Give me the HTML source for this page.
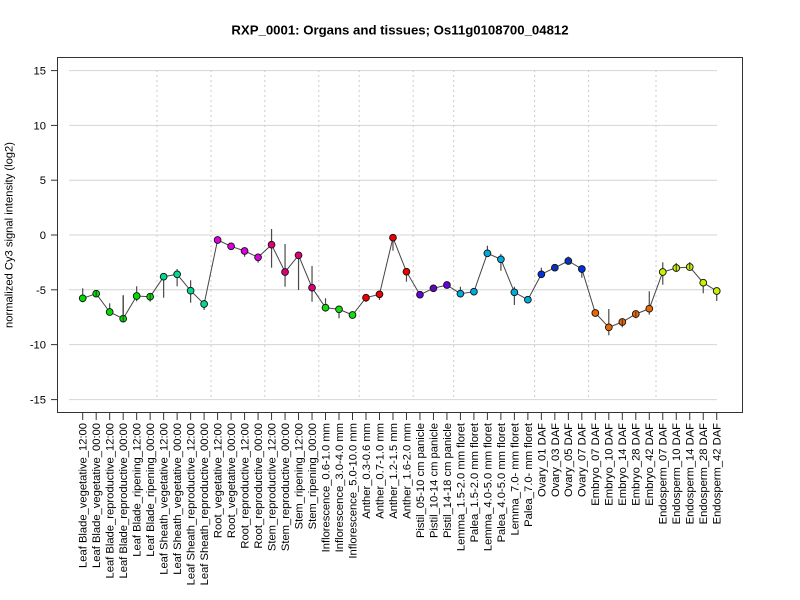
<!DOCTYPE html>
<html><head><meta charset="utf-8"><style>
html,body{margin:0;padding:0;background:#fff;}
svg{display:block;font-family:"Liberation Sans",Arial,sans-serif;}
</style></head><body>
<svg width="800" height="600" viewBox="0 0 800 600" xmlns="http://www.w3.org/2000/svg">
<rect width="800" height="600" fill="#fff"/>
<text x="400" y="34.5" text-anchor="middle" font-size="13.2" font-weight="bold" fill="#000">RXP_0001: Organs and tissues; Os11g0108700_04812</text>
<!-- horizontal grid -->
<g stroke="#d4d4d4" stroke-width="1">
<line x1="69" y1="70.6" x2="717" y2="70.6"/>
<line x1="69" y1="125.4" x2="717" y2="125.4"/>
<line x1="69" y1="180.2" x2="717" y2="180.2"/>
<line x1="69" y1="235" x2="717" y2="235"/>
<line x1="69" y1="289.8" x2="717" y2="289.8"/>
<line x1="69" y1="344.6" x2="717" y2="344.6"/>
<line x1="69" y1="399.6" x2="717" y2="399.6"/>
</g>
<!-- vertical dotted -->
<g stroke="#cccccc" stroke-width="1" stroke-dasharray="2,3">
<line x1="157" y1="70" x2="157" y2="400"/>
<line x1="211" y1="70" x2="211" y2="400"/>
<line x1="264.8" y1="70" x2="264.8" y2="400"/>
<line x1="318.8" y1="70" x2="318.8" y2="400"/>
<line x1="359.2" y1="70" x2="359.2" y2="400"/>
<line x1="413.2" y1="70" x2="413.2" y2="400"/>
<line x1="453.7" y1="70" x2="453.7" y2="400"/>
<line x1="534.6" y1="70" x2="534.6" y2="400"/>
<line x1="588.6" y1="70" x2="588.6" y2="400"/>
<line x1="656" y1="70" x2="656" y2="400"/>
</g>
<!-- box -->
<rect x="57.5" y="57.5" width="685" height="355" fill="none" stroke="#333" stroke-width="1"/>
<!-- y ticks -->
<g stroke="#333" stroke-width="1">
<line x1="51" y1="70.6" x2="57.5" y2="70.6"/>
<line x1="51" y1="125.4" x2="57.5" y2="125.4"/>
<line x1="51" y1="180.2" x2="57.5" y2="180.2"/>
<line x1="51" y1="235" x2="57.5" y2="235"/>
<line x1="51" y1="289.8" x2="57.5" y2="289.8"/>
<line x1="51" y1="344.6" x2="57.5" y2="344.6"/>
<line x1="51" y1="399.6" x2="57.5" y2="399.6"/>
</g>
<g font-size="11.2" text-anchor="end" fill="#000">
<text x="46" y="74.6">15</text>
<text x="46" y="129.4">10</text>
<text x="46" y="184.2">5</text>
<text x="46" y="239">0</text>
<text x="46" y="293.8">-5</text>
<text x="46" y="348.6">-10</text>
<text x="46" y="403.6">-15</text>
</g>
<text transform="translate(12.5,235) rotate(-90)" text-anchor="middle" font-size="11.2" fill="#000">normalized Cy3 signal intensity (log2)</text>
<!-- x ticks -->
<g stroke="#333" stroke-width="1">
<line x1="82.7" y1="412.5" x2="716.73" y2="412.5"/>
<line x1="82.70" y1="412.5" x2="82.70" y2="420"/>
<line x1="96.19" y1="412.5" x2="96.19" y2="420"/>
<line x1="109.68" y1="412.5" x2="109.68" y2="420"/>
<line x1="123.17" y1="412.5" x2="123.17" y2="420"/>
<line x1="136.66" y1="412.5" x2="136.66" y2="420"/>
<line x1="150.15" y1="412.5" x2="150.15" y2="420"/>
<line x1="163.64" y1="412.5" x2="163.64" y2="420"/>
<line x1="177.13" y1="412.5" x2="177.13" y2="420"/>
<line x1="190.62" y1="412.5" x2="190.62" y2="420"/>
<line x1="204.11" y1="412.5" x2="204.11" y2="420"/>
<line x1="217.60" y1="412.5" x2="217.60" y2="420"/>
<line x1="231.09" y1="412.5" x2="231.09" y2="420"/>
<line x1="244.58" y1="412.5" x2="244.58" y2="420"/>
<line x1="258.07" y1="412.5" x2="258.07" y2="420"/>
<line x1="271.56" y1="412.5" x2="271.56" y2="420"/>
<line x1="285.05" y1="412.5" x2="285.05" y2="420"/>
<line x1="298.54" y1="412.5" x2="298.54" y2="420"/>
<line x1="312.03" y1="412.5" x2="312.03" y2="420"/>
<line x1="325.52" y1="412.5" x2="325.52" y2="420"/>
<line x1="339.01" y1="412.5" x2="339.01" y2="420"/>
<line x1="352.50" y1="412.5" x2="352.50" y2="420"/>
<line x1="365.99" y1="412.5" x2="365.99" y2="420"/>
<line x1="379.48" y1="412.5" x2="379.48" y2="420"/>
<line x1="392.97" y1="412.5" x2="392.97" y2="420"/>
<line x1="406.46" y1="412.5" x2="406.46" y2="420"/>
<line x1="419.95" y1="412.5" x2="419.95" y2="420"/>
<line x1="433.44" y1="412.5" x2="433.44" y2="420"/>
<line x1="446.93" y1="412.5" x2="446.93" y2="420"/>
<line x1="460.42" y1="412.5" x2="460.42" y2="420"/>
<line x1="473.91" y1="412.5" x2="473.91" y2="420"/>
<line x1="487.40" y1="412.5" x2="487.40" y2="420"/>
<line x1="500.89" y1="412.5" x2="500.89" y2="420"/>
<line x1="514.38" y1="412.5" x2="514.38" y2="420"/>
<line x1="527.87" y1="412.5" x2="527.87" y2="420"/>
<line x1="541.36" y1="412.5" x2="541.36" y2="420"/>
<line x1="554.85" y1="412.5" x2="554.85" y2="420"/>
<line x1="568.34" y1="412.5" x2="568.34" y2="420"/>
<line x1="581.83" y1="412.5" x2="581.83" y2="420"/>
<line x1="595.32" y1="412.5" x2="595.32" y2="420"/>
<line x1="608.81" y1="412.5" x2="608.81" y2="420"/>
<line x1="622.30" y1="412.5" x2="622.30" y2="420"/>
<line x1="635.79" y1="412.5" x2="635.79" y2="420"/>
<line x1="649.28" y1="412.5" x2="649.28" y2="420"/>
<line x1="662.77" y1="412.5" x2="662.77" y2="420"/>
<line x1="676.26" y1="412.5" x2="676.26" y2="420"/>
<line x1="689.75" y1="412.5" x2="689.75" y2="420"/>
<line x1="703.24" y1="412.5" x2="703.24" y2="420"/>
<line x1="716.73" y1="412.5" x2="716.73" y2="420"/>
</g>
<!-- x labels -->
<g font-size="11.2" text-anchor="end" fill="#000">
<text transform="translate(86.6,423) rotate(-90)">Leaf Blade_vegetative_12:00</text>
<text transform="translate(100.1,423) rotate(-90)">Leaf Blade_vegetative_00:00</text>
<text transform="translate(113.6,423) rotate(-90)">Leaf Blade_reproductive_12:00</text>
<text transform="translate(127.1,423) rotate(-90)">Leaf Blade_reproductive_00:00</text>
<text transform="translate(140.6,423) rotate(-90)">Leaf Blade_ripening_12:00</text>
<text transform="translate(154.1,423) rotate(-90)">Leaf Blade_ripening_00:00</text>
<text transform="translate(167.5,423) rotate(-90)">Leaf Sheath_vegetative_12:00</text>
<text transform="translate(181.0,423) rotate(-90)">Leaf Sheath_vegetative_00:00</text>
<text transform="translate(194.5,423) rotate(-90)">Leaf Sheath_reproductive_12:00</text>
<text transform="translate(208.0,423) rotate(-90)">Leaf Sheath_reproductive_00:00</text>
<text transform="translate(221.5,423) rotate(-90)">Root_vegetative_12:00</text>
<text transform="translate(235.0,423) rotate(-90)">Root_vegetative_00:00</text>
<text transform="translate(248.5,423) rotate(-90)">Root_reproductive_12:00</text>
<text transform="translate(262.0,423) rotate(-90)">Root_reproductive_00:00</text>
<text transform="translate(275.5,423) rotate(-90)">Stem_reproductive_12:00</text>
<text transform="translate(289.0,423) rotate(-90)">Stem_reproductive_00:00</text>
<text transform="translate(302.4,423) rotate(-90)">Stem_ripening_12:00</text>
<text transform="translate(315.9,423) rotate(-90)">Stem_ripening_00:00</text>
<text transform="translate(329.4,423) rotate(-90)">Inflorescence_0.6-1.0 mm</text>
<text transform="translate(342.9,423) rotate(-90)">Inflorescence_3.0-4.0 mm</text>
<text transform="translate(356.4,423) rotate(-90)">Inflorescence_5.0-10.0 mm</text>
<text transform="translate(369.9,423) rotate(-90)">Anther_0.3-0.6 mm</text>
<text transform="translate(383.4,423) rotate(-90)">Anther_0.7-1.0 mm</text>
<text transform="translate(396.9,423) rotate(-90)">Anther_1.2-1.5 mm</text>
<text transform="translate(410.4,423) rotate(-90)">Anther_1.6-2.0 mm</text>
<text transform="translate(423.9,423) rotate(-90)">Pistil_05-10 cm panicle</text>
<text transform="translate(437.3,423) rotate(-90)">Pistil_10-14 cm panicle</text>
<text transform="translate(450.8,423) rotate(-90)">Pistil_14-18 cm panicle</text>
<text transform="translate(464.3,423) rotate(-90)">Lemma_1.5-2.0 mm floret</text>
<text transform="translate(477.8,423) rotate(-90)">Palea_1.5-2.0 mm floret</text>
<text transform="translate(491.3,423) rotate(-90)">Lemma_4.0-5.0 mm floret</text>
<text transform="translate(504.8,423) rotate(-90)">Palea_4.0-5.0 mm floret</text>
<text transform="translate(518.3,423) rotate(-90)">Lemma_7.0- mm floret</text>
<text transform="translate(531.8,423) rotate(-90)">Palea_7.0- mm floret</text>
<text transform="translate(545.3,423) rotate(-90)">Ovary_01 DAF</text>
<text transform="translate(558.8,423) rotate(-90)">Ovary_03 DAF</text>
<text transform="translate(572.2,423) rotate(-90)">Ovary_05 DAF</text>
<text transform="translate(585.7,423) rotate(-90)">Ovary_07 DAF</text>
<text transform="translate(599.2,423) rotate(-90)">Embryo_07 DAF</text>
<text transform="translate(612.7,423) rotate(-90)">Embryo_10 DAF</text>
<text transform="translate(626.2,423) rotate(-90)">Embryo_14 DAF</text>
<text transform="translate(639.7,423) rotate(-90)">Embryo_28 DAF</text>
<text transform="translate(653.2,423) rotate(-90)">Embryo_42 DAF</text>
<text transform="translate(666.7,423) rotate(-90)">Endosperm_07 DAF</text>
<text transform="translate(680.2,423) rotate(-90)">Endosperm_10 DAF</text>
<text transform="translate(693.7,423) rotate(-90)">Endosperm_14 DAF</text>
<text transform="translate(707.1,423) rotate(-90)">Endosperm_28 DAF</text>
<text transform="translate(720.6,423) rotate(-90)">Endosperm_42 DAF</text>
</g>
<!-- connecting line -->
<polyline fill="none" stroke="#444" stroke-width="1" points="82.70,298.3 96.19,293.7 109.68,312 123.17,318.7 136.66,296 150.15,296.7 163.64,276.7 177.13,274.3 190.62,290.7 204.11,304 217.60,240 231.09,246.3 244.58,251 258.07,257.3 271.56,244.7 285.05,272 298.54,255.3 312.03,287.7 325.52,307.7 339.01,309.3 352.50,315 365.99,297.7 379.48,294.3 392.97,237.7 406.46,271.7 419.95,294.7 433.44,288.3 446.93,285 460.42,293.7 473.91,291.7 487.40,253.3 500.89,259.3 514.38,292.3 527.87,299.7 541.36,274.3 554.85,267.7 568.34,261 581.83,269 595.32,313 608.81,327.3 622.30,322 635.79,314 649.28,308.7 662.77,272 676.26,268 689.75,267 703.24,282.7 716.73,291"/>
<!-- error bars -->
<g stroke="#4a4a4a" stroke-width="1.2">
<line x1="82.70" y1="288.3" x2="82.70" y2="302.3"/>
<line x1="96.19" y1="290.7" x2="96.19" y2="297.3"/>
<line x1="109.68" y1="303.3" x2="109.68" y2="315"/>
<line x1="123.17" y1="295.3" x2="123.17" y2="321.7"/>
<line x1="136.66" y1="286.3" x2="136.66" y2="301.3"/>
<line x1="150.15" y1="294" x2="150.15" y2="301.7"/>
<line x1="163.64" y1="273.3" x2="163.64" y2="297.7"/>
<line x1="177.13" y1="269" x2="177.13" y2="286.3"/>
<line x1="190.62" y1="280.3" x2="190.62" y2="302.7"/>
<line x1="204.11" y1="300" x2="204.11" y2="310"/>
<line x1="217.60" y1="238.3" x2="217.60" y2="242"/>
<line x1="231.09" y1="244.7" x2="231.09" y2="248.7"/>
<line x1="244.58" y1="248.7" x2="244.58" y2="256.7"/>
<line x1="258.07" y1="254.7" x2="258.07" y2="262.7"/>
<line x1="271.56" y1="229" x2="271.56" y2="267.7"/>
<line x1="285.05" y1="244" x2="285.05" y2="286.7"/>
<line x1="298.54" y1="253" x2="298.54" y2="290"/>
<line x1="312.03" y1="266" x2="312.03" y2="301.7"/>
<line x1="325.52" y1="298.3" x2="325.52" y2="311.7"/>
<line x1="339.01" y1="307.3" x2="339.01" y2="318.3"/>
<line x1="352.50" y1="311.7" x2="352.50" y2="317.3"/>
<line x1="365.99" y1="296" x2="365.99" y2="302"/>
<line x1="379.48" y1="291.7" x2="379.48" y2="300"/>
<line x1="392.97" y1="235" x2="392.97" y2="250.7"/>
<line x1="406.46" y1="268.3" x2="406.46" y2="281.7"/>
<line x1="419.95" y1="291.7" x2="419.95" y2="297.3"/>
<line x1="433.44" y1="286.7" x2="433.44" y2="290.7"/>
<line x1="446.93" y1="282.3" x2="446.93" y2="287.7"/>
<line x1="460.42" y1="286.7" x2="460.42" y2="297.3"/>
<line x1="473.91" y1="288.7" x2="473.91" y2="295"/>
<line x1="487.40" y1="245.7" x2="487.40" y2="256.7"/>
<line x1="500.89" y1="254" x2="500.89" y2="270.7"/>
<line x1="514.38" y1="286.7" x2="514.38" y2="305"/>
<line x1="527.87" y1="296.7" x2="527.87" y2="303.3"/>
<line x1="541.36" y1="267.7" x2="541.36" y2="277"/>
<line x1="554.85" y1="265.7" x2="554.85" y2="270"/>
<line x1="568.34" y1="256.7" x2="568.34" y2="264.3"/>
<line x1="581.83" y1="266.7" x2="581.83" y2="277.7"/>
<line x1="595.32" y1="311" x2="595.32" y2="316"/>
<line x1="608.81" y1="309" x2="608.81" y2="335.3"/>
<line x1="622.30" y1="319.3" x2="622.30" y2="327.3"/>
<line x1="635.79" y1="311.7" x2="635.79" y2="318.3"/>
<line x1="649.28" y1="291.3" x2="649.28" y2="314.7"/>
<line x1="662.77" y1="262.3" x2="662.77" y2="284.7"/>
<line x1="676.26" y1="263.3" x2="676.26" y2="271.7"/>
<line x1="689.75" y1="262.3" x2="689.75" y2="269.3"/>
<line x1="703.24" y1="280" x2="703.24" y2="293.3"/>
<line x1="716.73" y1="291" x2="716.73" y2="301"/>
</g>
<!-- points -->
<g stroke="#111" stroke-width="0.9">
<g fill="#00dd00">
<circle cx="82.70" cy="298.3" r="3.4"/><circle cx="96.19" cy="293.7" r="3.4"/><circle cx="109.68" cy="312" r="3.4"/><circle cx="123.17" cy="318.7" r="3.4"/><circle cx="136.66" cy="296" r="3.4"/><circle cx="150.15" cy="296.7" r="3.4"/>
</g>
<g fill="#00d894">
<circle cx="163.64" cy="276.7" r="3.4"/><circle cx="177.13" cy="274.3" r="3.4"/><circle cx="190.62" cy="290.7" r="3.4"/><circle cx="204.11" cy="304" r="3.4"/>
</g>
<g fill="#dd00dd">
<circle cx="217.60" cy="240" r="3.4"/><circle cx="231.09" cy="246.3" r="3.4"/><circle cx="244.58" cy="251" r="3.4"/><circle cx="258.07" cy="257.3" r="3.4"/>
</g>
<g fill="#dd0077">
<circle cx="271.56" cy="244.7" r="3.4"/><circle cx="285.05" cy="272" r="3.4"/><circle cx="298.54" cy="255.3" r="3.4"/><circle cx="312.03" cy="287.7" r="3.4"/>
</g>
<g fill="#11dd11">
<circle cx="325.52" cy="307.7" r="3.4"/><circle cx="339.01" cy="309.3" r="3.4"/><circle cx="352.50" cy="315" r="3.4"/>
</g>
<g fill="#ee0000">
<circle cx="365.99" cy="297.7" r="3.4"/><circle cx="379.48" cy="294.3" r="3.4"/><circle cx="392.97" cy="237.7" r="3.4"/><circle cx="406.46" cy="271.7" r="3.4"/>
</g>
<g fill="#6600dd">
<circle cx="419.95" cy="294.7" r="3.4"/><circle cx="433.44" cy="288.3" r="3.4"/><circle cx="446.93" cy="285" r="3.4"/>
</g>
<g fill="#00aadd">
<circle cx="460.42" cy="293.7" r="3.4"/><circle cx="473.91" cy="291.7" r="3.4"/><circle cx="487.40" cy="253.3" r="3.4"/><circle cx="500.89" cy="259.3" r="3.4"/><circle cx="514.38" cy="292.3" r="3.4"/><circle cx="527.87" cy="299.7" r="3.4"/>
</g>
<g fill="#0033dd">
<circle cx="541.36" cy="274.3" r="3.4"/><circle cx="554.85" cy="267.7" r="3.4"/><circle cx="568.34" cy="261" r="3.4"/><circle cx="581.83" cy="269" r="3.4"/>
</g>
<g fill="#ee6600">
<circle cx="595.32" cy="313" r="3.4"/><circle cx="608.81" cy="327.3" r="3.4"/><circle cx="622.30" cy="322" r="3.4"/><circle cx="635.79" cy="314" r="3.4"/><circle cx="649.28" cy="308.7" r="3.4"/>
</g>
<g fill="#ccee00">
<circle cx="662.77" cy="272" r="3.4"/><circle cx="676.26" cy="268" r="3.4"/><circle cx="689.75" cy="267" r="3.4"/><circle cx="703.24" cy="282.7" r="3.4"/><circle cx="716.73" cy="291" r="3.4"/>
</g>
</g>
<!-- error bars over circles (thin center marks) -->
<g stroke="#333" stroke-width="1">
<line x1="96.19" y1="290.7" x2="96.19" y2="297.3"/>
<line x1="123.17" y1="295.3" x2="123.17" y2="321.7"/>
<line x1="150.15" y1="294" x2="150.15" y2="299.7"/>
<line x1="433.44" y1="286.7" x2="433.44" y2="290.7"/>
<line x1="554.85" y1="265.7" x2="554.85" y2="270"/>
<line x1="568.34" y1="256.7" x2="568.34" y2="264.3"/>
<line x1="676.26" y1="263.3" x2="676.26" y2="271.7"/>
<line x1="689.75" y1="262.3" x2="689.75" y2="269.3"/>
<line x1="622.30" y1="319.3" x2="622.30" y2="325"/>
<line x1="635.79" y1="311.7" x2="635.79" y2="316.3"/>
</g>
</svg>
</body></html>
